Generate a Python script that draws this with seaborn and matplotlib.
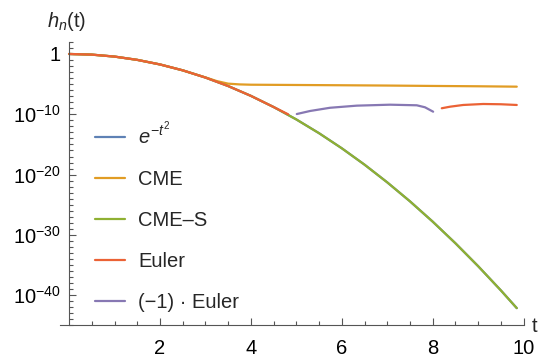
import numpy as np
import pandas as pd
import seaborn as sns
import matplotlib.pyplot as plt
from matplotlib.ticker import FixedLocator, NullFormatter

sns.set_style("ticks")
plt.rcParams['font.family'] = ['Liberation Sans', 'DejaVu Sans']
plt.rcParams['mathtext.fontset'] = 'custom'
plt.rcParams['mathtext.rm'] = 'Liberation Sans'
plt.rcParams['mathtext.it'] = 'Liberation Sans:italic'

FS = 14.5

# values
t_exact = [0, 0.5, 1, 1.5, 2, 2.5, 3, 3.5, 4, 4.5, 5, 5.5, 6, 6.5, 7, 7.5, 8, 8.5, 9, 9.5, 9.85]
h_exact = [1.0, 0.779, 0.368, 0.105, 1.83e-2, 1.93e-3, 1.23e-4, 4.79e-6, 1.13e-7, 1.60e-9,
           1.39e-11, 7.3e-14, 2.32e-16, 4.48e-19, 5.2e-22, 3.72e-25, 1.6e-28, 4.19e-32,
           6.6e-36, 6.4e-40, 7.3e-43]

t_cme = [0, 0.5, 1, 1.5, 2, 2.5, 3, 3.25, 3.5, 3.75, 4, 5, 6, 7, 8, 9, 9.85]
h_cme = [1.0, 0.779, 0.368, 0.105, 1.83e-2, 1.93e-3, 1.3e-4, 3.2e-5, 1.2e-5, 9.0e-6,
         8.0e-6, 7.2e-6, 6.5e-6, 5.8e-6, 5.0e-6, 4.4e-6, 3.8e-6]

t_cmes = [0, 0.5, 1, 1.5, 2, 2.5, 3, 3.5, 4, 4.5, 5, 5.5, 6, 6.5, 7, 7.5, 8, 8.5, 9, 9.5, 9.85]
h_cmes = [1.0, 0.779, 0.368, 0.105, 1.83e-2, 1.93e-3, 1.23e-4, 4.79e-6, 1.13e-7, 1.60e-9,
          1.39e-11, 7.3e-14, 2.32e-16, 4.48e-19, 5.2e-22, 3.72e-25, 1.6e-28, 4.19e-32,
          6.6e-36, 6.4e-40, 7.3e-43]

t_euler_a = [0, 0.5, 1, 1.5, 2, 2.5, 3, 3.5, 4, 4.5, 4.82]
h_euler_a = [1.0, 0.779, 0.368, 0.105, 1.83e-2, 1.93e-3, 1.23e-4, 4.79e-6, 1.13e-7, 1.60e-9, 1.0e-10]
t_euler_b = [8.20, 8.38, 8.67, 9.11, 9.50, 9.85]
h_euler_b = [1.0e-9, 1.8e-9, 3.5e-9, 5.1e-9, 4.6e-9, 3.5e-9]

t_neg = [5.01, 5.30, 5.74, 6.33, 7.06, 7.65, 7.83, 8.01]
h_neg = [1.1e-10, 3.5e-10, 1.2e-9, 2.7e-9, 3.9e-9, 3.1e-9, 1.45e-9, 2.7e-10]

names = [r'$e^{-t^2}$', 'CME', 'CME\u2013S', 'Euler', '(\u22121) \u00b7 Euler']
colors = ['#5E81B5', '#E19C24', '#8FB032', '#EB6235', '#8778B3']

parts = [
    (names[0], 0, t_exact, h_exact),
    (names[1], 0, t_cme, h_cme),
    (names[2], 0, t_cmes, h_cmes),
    (names[3], 0, t_euler_a, h_euler_a),
    (names[3], 1, t_euler_b, h_euler_b),
    (names[4], 0, t_neg, h_neg),
]
rows = []
for name, seg, ts, hs in parts:
    for t, h in zip(ts, hs):
        rows.append({'series': name, 'seg': seg, 't': t, 'h': h})
df = pd.DataFrame(rows)

fig = plt.figure(figsize=(5.55, 3.6), dpi=100)
ax = fig.add_axes([0.1081, 0.0961, 0.8353, 0.7875])

sns.lineplot(data=df, x='t', y='h', hue='series', hue_order=names, palette=colors,
             units='seg', estimator=None, sort=False, linewidth=1.6, ax=ax)
ax.set_yscale('log')
ax.set_xlim(-0.2, 10)
ax.set_ylim(1e-45, 1e2)
ax.set_xlabel('')
ax.set_ylabel('')

# axes like Mathematica: y axis through t=0
ax.spines['top'].set_visible(False)
ax.spines['right'].set_visible(False)
ax.spines['left'].set_position(('data', 0))
for s in ['left', 'bottom']:
    ax.spines[s].set_color('#555555')
    ax.spines[s].set_linewidth(0.8)

ax.xaxis.set_major_locator(FixedLocator([2, 4, 6, 8, 10]))
ax.xaxis.set_minor_locator(FixedLocator(np.arange(0.5, 10, 0.5)))
ax.yaxis.set_major_locator(FixedLocator([1, 1e-10, 1e-20, 1e-30, 1e-40]))
ax.yaxis.set_minor_locator(FixedLocator([10.0 ** k for k in range(-45, 3)]))
ax.yaxis.set_minor_formatter(NullFormatter())
ax.set_xticklabels(['2', '4', '6', '8', '10'])
ax.set_yticklabels(['1', r'$10^{-10}$', r'$10^{-20}$', r'$10^{-30}$', r'$10^{-40}$'])
ax.tick_params(which='both', direction='in', color='#555555', width=0.8,
               labelsize=FS, labelcolor='black')
ax.tick_params(which='major', length=5)
ax.tick_params(which='minor', length=3)
ax.tick_params(axis='y', pad=6)
ax.tick_params(axis='x', pad=10)

handles, labels = ax.get_legend_handles_labels()
ax.legend(handles, labels, loc='upper left', bbox_to_anchor=(0.171, 0.663),
          bbox_transform=fig.transFigure, frameon=False, fontsize=FS,
          handlelength=1.5, handletextpad=0.65, labelspacing=1.1,
          borderpad=0, borderaxespad=0)

fig.text(47 / 555, 1 - 27 / 360, r'$h_n$(t)', fontsize=FS, ha='left', va='baseline')
fig.text(532 / 555, 1 - 326 / 360, 't', fontsize=FS, ha='left', va='center')

plt.savefig('out.png', dpi=100)
